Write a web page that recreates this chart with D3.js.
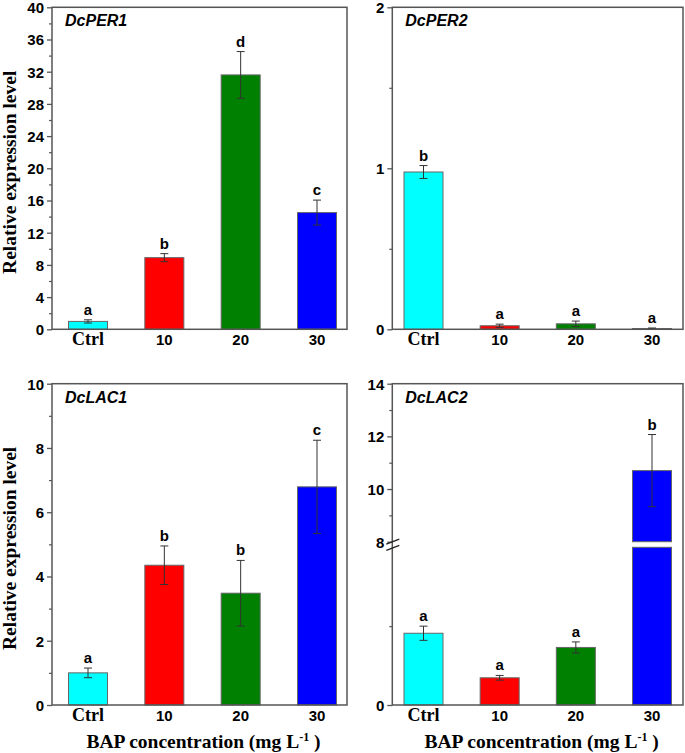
<!DOCTYPE html>
<html>
<head>
<meta charset="utf-8">
<script src="https://cdn.jsdelivr.net/npm/d3@7"></script>
<style>
  body { margin: 0; background: #fff; }
  svg { display: block; }
  .tick-label { font-family: "Liberation Sans", Arial, sans-serif; font-weight: bold; font-size: 15px; fill: #000; }
  .serif { font-family: "Liberation Serif", "Times New Roman", serif; font-weight: bold; fill: #000; }
</style>
</head>
<body>
<script>
// data
var categories = ["Ctrl", "10", "20", "30"];
var barColors = ["#00ffff", "#ff0000", "#008000", "#0000ff"];

var per1Values = [0.98, 8.9, 31.6, 14.5];
var per1Errors = [0.2, 0.5, 2.9, 1.55];
var per1Letters = ["a", "b", "d", "c"];

var per2Values = [0.977, 0.022, 0.034, 0.005];
var per2Errors = [0.04, 0.01, 0.017, 0.003];
var per2Letters = ["b", "a", "a", "a"];

var lac1Values = [1.0, 4.35, 3.48, 6.79];
var lac1Errors = [0.15, 0.6, 1.02, 1.45];
var lac1Letters = ["a", "b", "b", "c"];

var lac2Values = [0.91, 0.345, 0.73, 10.7];
var lac2Errors = [0.09, 0.03, 0.07, 1.37];
var lac2Letters = ["a", "a", "a", "b"];

var per1Ticks = [0, 4, 8, 12, 16, 20, 24, 28, 32, 36, 40];
var per2Ticks = [0, 1, 2];
var lac1Ticks = [0, 2, 4, 6, 8, 10];
var lac2Ticks = [0, 8, 10, 12, 14];

var width = 685, height = 753;
var svg = d3.select("body").append("svg").attr("width", width).attr("height", height);

var frameColor = "#555";

var panels = [
  { name: "DcPER1", values: per1Values, errors: per1Errors, letters: per1Letters, ticks: per1Ticks,
    x0: 52, x1: 347, y0: 7.3, y1: 329.3, first: 88, last: 317,
    domain: [0, 40], minor: d3.range(2, 40, 4), ytitle: true, xtitle: false },
  { name: "DcPER2", values: per2Values, errors: per2Errors, letters: per2Letters, ticks: per2Ticks,
    x0: 392.3, x1: 683, y0: 7.3, y1: 329.3, first: 423.5, last: 652,
    domain: [0, 2], minor: [0.5, 1.5], ytitle: false, xtitle: false },
  { name: "DcLAC1", values: lac1Values, errors: lac1Errors, letters: lac1Letters, ticks: lac1Ticks,
    x0: 52, x1: 347, y0: 383.7, y1: 705, first: 88, last: 317,
    domain: [0, 10], minor: [1, 3, 5, 7, 9], ytitle: true, xtitle: true },
  { name: "DcLAC2", values: lac2Values, errors: lac2Errors, letters: lac2Letters, ticks: lac2Ticks,
    x0: 392.3, x1: 683, y0: 383.7, y1: 705, first: 423.5, last: 652,
    broken: true, minor: [1, 9, 11, 13], ytitle: false, xtitle: true }
];

panels.forEach(function(p) {
  var g = svg.append("g");

  var x = d3.scalePoint().domain(categories).range([p.first, p.last]);
  var y;
  if (p.broken) {
    // lower segment 0-2, upper segment 8-14, small gap between
    y = d3.scaleLinear().domain([0, 2, 8, 14]).range([p.y1, 547.3, 541.7, p.y0]);
  } else {
    y = d3.scaleLinear().domain(p.domain).range([p.y1, p.y0]);
  }
  var barW = 39;

  // bars
  p.values.forEach(function(v, i) {
    var cx = x(categories[i]);
    if (p.broken && v > 8) {
      g.append("rect")
        .attr("x", cx - barW / 2).attr("width", barW)
        .attr("y", y(2)).attr("height", y(0) - y(2))
        .attr("fill", barColors[i]).attr("stroke", "#666").attr("stroke-width", 1);
      g.append("rect")
        .attr("x", cx - barW / 2).attr("width", barW)
        .attr("y", y(v)).attr("height", y(8) - y(v))
        .attr("fill", barColors[i]).attr("stroke", "#666").attr("stroke-width", 1);
    } else {
      g.append("rect")
        .attr("x", cx - barW / 2).attr("width", barW)
        .attr("y", y(v)).attr("height", Math.max(y(0) - y(v), 0.8))
        .attr("fill", barColors[i]).attr("stroke", "#666").attr("stroke-width", 1);
    }
  });

  // error bars
  p.values.forEach(function(v, i) {
    var cx = x(categories[i]);
    var hi = y(v + p.errors[i]), lo = y(Math.max(v - p.errors[i], 0));
    var eg = g.append("g").attr("stroke", "#333").attr("stroke-width", 1);
    eg.append("line").attr("x1", cx).attr("x2", cx).attr("y1", hi).attr("y2", lo);
    eg.append("line").attr("x1", cx - 4).attr("x2", cx + 4).attr("y1", hi).attr("y2", hi);
    eg.append("line").attr("x1", cx - 4).attr("x2", cx + 4).attr("y1", lo).attr("y2", lo);

    g.append("text").attr("class", "tick-label")
      .attr("x", cx).attr("y", hi - 5)
      .attr("text-anchor", "middle")
      .text(p.letters[i]);
  });

  // frame
  g.append("rect")
    .attr("x", p.x0).attr("y", p.y0)
    .attr("width", p.x1 - p.x0).attr("height", p.y1 - p.y0)
    .attr("fill", "none").attr("stroke", frameColor).attr("stroke-width", 1.5);

  // y axis ticks
  var yAxis = d3.axisLeft(y).tickValues(p.ticks).tickSize(5).tickPadding(3)
    .tickFormat(d3.format("d"));
  var ax = g.append("g").attr("transform", "translate(" + p.x0 + ",0)").call(yAxis);
  ax.select(".domain").remove();
  ax.selectAll(".tick line").attr("stroke", frameColor).attr("stroke-width", 1.3);
  ax.selectAll(".tick text").attr("class", "tick-label").attr("dy", "0.36em");

  var minorAxis = d3.axisLeft(y).tickValues(p.minor).tickSize(3).tickFormat("");
  var mx = g.append("g").attr("transform", "translate(" + p.x0 + ",0)").call(minorAxis);
  mx.select(".domain").remove();
  mx.selectAll(".tick line").attr("stroke", frameColor).attr("stroke-width", 1.2);

  if (p.broken) {
    // two slashes across the axis at the break
    [y(8), y(2)].forEach(function(yy, k) {
      g.append("line")
        .attr("x1", p.x0 - 6).attr("y1", yy + 2.5 + k * 0.5)
        .attr("x2", p.x0 + 7).attr("y2", yy - 2.5 + k * 0.5)
        .attr("stroke", "#222").attr("stroke-width", 1.3);
    });
  }

  // x labels
  categories.forEach(function(c, i) {
    var t = g.append("text")
      .attr("x", x(c)).attr("y", p.y1 + 15.5)
      .attr("text-anchor", "middle")
      .text(c);
    if (c === "Ctrl") t.attr("class", "serif").style("font-size", "18px");
    else t.attr("class", "tick-label");
  });

  // gene name
  g.append("text")
    .attr("x", p.x0 + 13).attr("y", p.y0 + 19)
    .style("font-family", "Liberation Sans, Arial, sans-serif")
    .style("font-weight", "bold").style("font-style", "italic").style("font-size", "16px")
    .text(p.name);

  if (p.ytitle) {
    g.append("text").attr("class", "serif")
      .attr("transform", "translate(16," + ((p.y0 + p.y1) / 2 + 4) + ") rotate(-90)")
      .attr("text-anchor", "middle")
      .style("font-size", "19.5px")
      .text("Relative expression level");
  }

  if (p.xtitle) {
    var tt = g.append("text").attr("class", "serif")
      .attr("x", (p.x0 + p.x1) / 2 + 4).attr("y", 748)
      .attr("text-anchor", "middle")
      .style("font-size", "19.5px");
    tt.append("tspan").text("BAP concentration (mg L");
    tt.append("tspan").attr("dy", -7).style("font-size", "12px").text("-1");
    tt.append("tspan").attr("dy", 7).text(" )");
  }
});
</script>
</body>
</html>
